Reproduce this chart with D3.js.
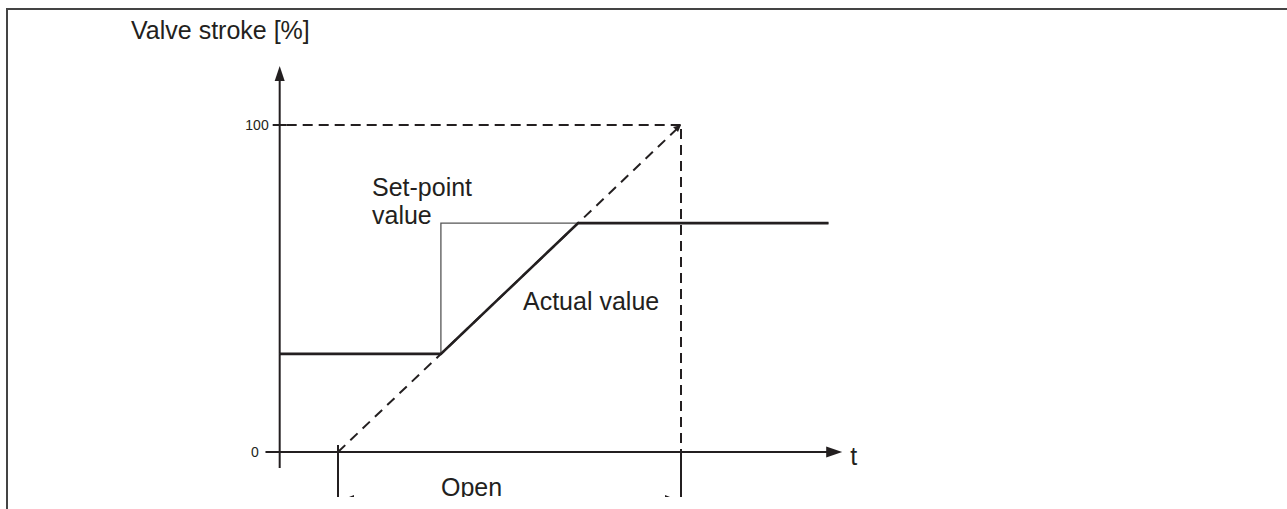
<!DOCTYPE html>
<html><head><meta charset="utf-8">
<script src="https://cdn.jsdelivr.net/npm/d3@7"></script>
<style>html,body{margin:0;padding:0;background:#fff;}svg{display:block;}</style>
</head><body>
<div id="chart"></div>
<script>
// ---- data ----
const yTickValues = [0, 100];
const yTickLabels = ["0", "100"];
const axisStartT = -17;      // y axis position in time units
const axisEndT = 147;        // x axis arrow tip
const lineEndT = 143;
const setPointT = [axisStartT, 30, 30, lineEndT];
const setPointV = [30, 30, 70, 70];
const actualT = [axisStartT, 30, 70, lineEndT];
const actualV = [30, 30, 70, 70];
const rampT = [0, 100];
const rampV = [0, 100];
const openRange = [0, 100];
const texts = {yTitle: "Valve stroke [%]", xTitle: "t", setPoint: ["Set-point", "value"], actual: "Actual value", open: "Open"};

const W = 1287, H = 509;
const ink = "#231f20";
const svg = d3.select("#chart").append("svg").attr("width", W).attr("height", H);
const font = "'Liberation Sans', Arial, Helvetica, sans-serif";

// frame
svg.append("path").attr("d", `M7,509 V9 H1287`).attr("fill", "none").attr("stroke", "#444").attr("stroke-width", 2);

svg.append("defs").append("clipPath").attr("id", "clip")
  .append("rect").attr("x", 0).attr("y", 0).attr("width", W).attr("height", 497);

const x = d3.scaleLinear().domain([0, 100]).range([338, 681]);
const y = d3.scaleLinear().domain([0, 100]).range([452, 125]);

const g = svg.append("g").attr("clip-path", "url(#clip)");

// Y axis
const yAx = x(axisStartT);
g.append("line").attr("x1", yAx).attr("x2", yAx).attr("y1", 78).attr("y2", 468)
  .attr("stroke", ink).attr("stroke-width", 2);
g.append("path").attr("d", `M${yAx},66 L${yAx-5},81 L${yAx+5},81 Z`).attr("fill", ink);
// y ticks
yTickValues.forEach((v, i) => {
  g.append("line").attr("x1", v === 0 ? yAx - 14 : yAx - 7).attr("x2", yAx + 7)
    .attr("y1", y(v)).attr("y2", y(v)).attr("stroke", ink).attr("stroke-width", 2);
  g.append("text").attr("x", v === 0 ? yAx - 21 : yAx - 11).attr("y", y(v)).attr("dy", "0.35em")
    .attr("text-anchor", "end").attr("font-family", font).attr("font-size", 14).attr("fill", ink)
    .text(yTickLabels[i]);
});

// X axis
const xTip = x(axisEndT);
g.append("line").attr("x1", yAx - 14).attr("x2", xTip - 10).attr("y1", y(0)).attr("y2", y(0))
  .attr("stroke", ink).attr("stroke-width", 2);
g.append("path").attr("d", `M${xTip},${y(0)} L${xTip-16},${y(0)-5.5} L${xTip-16},${y(0)+5.5} Z`).attr("fill", ink);
g.append("text").attr("x", xTip + 8).attr("y", y(0) + 13).attr("font-family", font)
  .attr("font-size", 25).attr("fill", ink).text(texts.xTitle);

// dashed 100 guide lines
g.append("line").attr("x1", yAx + 7).attr("x2", x(100)).attr("y1", y(100)).attr("y2", y(100))
  .attr("stroke", ink).attr("stroke-width", 2).attr("stroke-dasharray", "10,6");
g.append("line").attr("x1", x(100)).attr("x2", x(100)).attr("y1", y(100) + 4).attr("y2", y(0))
  .attr("stroke", ink).attr("stroke-width", 2).attr("stroke-dasharray", "10,6");
// ramp dashed
g.append("path").attr("d", d3.line().x((d, i) => x(rampT[i])).y(d => y(d))(rampV))
  .attr("fill", "none").attr("stroke", ink).attr("stroke-width", 2).attr("stroke-dasharray", "10,7");
// corner arrow tip at 100
g.append("path").attr("d", `M${x(100)},${y(100)} l-8,2 l5,5 Z`).attr("fill", ink);

// open range verticals (solid below)
openRange.forEach(t => {
  g.append("line").attr("x1", x(t)).attr("x2", x(t)).attr("y1", t === 0 ? y(0) - 7 : y(0)).attr("y2", 500)
    .attr("stroke", ink).attr("stroke-width", 2);
});
// open arrow heads (mostly clipped)
const ay = 501;
g.append("path").attr("d", `M${x(0)+1},${ay} L${x(0)+16},${ay-6} L${x(0)+16},${ay+6} Z`).attr("fill", ink);
g.append("path").attr("d", `M${x(100)-1},${ay} L${x(100)-16},${ay-6} L${x(100)-16},${ay+6} Z`).attr("fill", ink);
g.append("text").attr("x", 441).attr("y", 496).attr("font-family", font).attr("font-size", 25)
  .attr("fill", ink).text(texts.open);

// set point (thin)
g.append("path").attr("d", d3.line().x((d, i) => x(setPointT[i])).y(d => y(d))(setPointV))
  .attr("fill", "none").attr("stroke", "#555").attr("stroke-width", 1.3);
// actual (thick)
g.append("path").attr("d", d3.line().x((d, i) => x(actualT[i])).y(d => y(d))(actualV))
  .attr("fill", "none").attr("stroke", ink).attr("stroke-width", 2.6);

// labels
g.append("text").attr("x", 131).attr("y", 39).attr("font-family", font).attr("font-size", 25)
  .attr("fill", ink).text(texts.yTitle);
const sp = g.append("text").attr("font-family", font).attr("font-size", 25).attr("fill", ink);
sp.append("tspan").attr("x", 372).attr("y", 196).text(texts.setPoint[0]);
sp.append("tspan").attr("x", 372).attr("y", 224).text(texts.setPoint[1]);
g.append("text").attr("x", 523).attr("y", 310).attr("font-family", font).attr("font-size", 25)
  .attr("fill", ink).text(texts.actual);
</script>
</body></html>
